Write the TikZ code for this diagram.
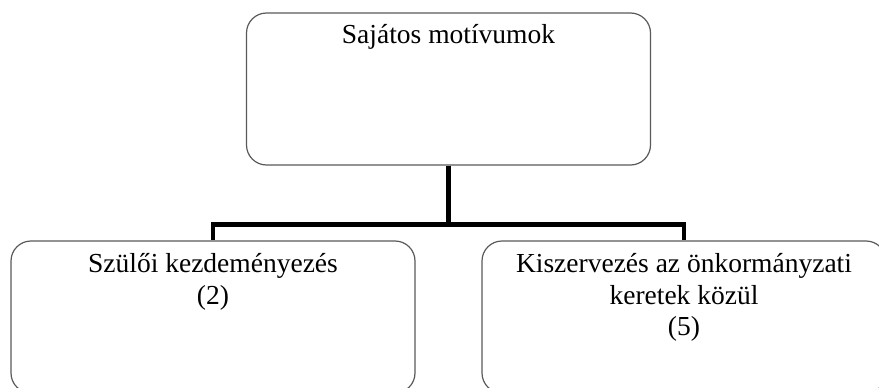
\documentclass[tikz,border=0pt]{standalone}
\usepackage{fontspec}
\setmainfont{Liberation Serif}
\usetikzlibrary{positioning}

\begin{document}
\begin{tikzpicture}[x=1pt, y=-1pt,
  box/.style={draw=black!65, line width=1.2pt, rounded corners=20pt, minimum width=404pt, minimum height=152pt, inner sep=0pt},
  lbl/.style={anchor=north, align=center, inner sep=0pt, font=\fontsize{27.5}{31.5}\selectfont},
  conn/.style={line width=4.5pt}]
\useasboundingbox (0,0) rectangle (879,388);
\clip (0,0) rectangle (879,388);
% dobozok
\node[box] (top) at (448.5,89) {};
\node[box] (left) at (213,317) {};
\node[box] (right) at (684,317) {};
% feliratok
\node[lbl, below=12pt of top.north] (toptext) {Sajátos motívumok};
\node[lbl, below=13pt of left.north] (lefttext) {Szülői kezdeményezés\\(2)};
\node[lbl, below=13pt of right.north] (righttext) {Kiszervezés az önkormányzati\\keretek közül\\(5)};
% összekötők
\draw[conn] (top.south) |- ([yshift=16pt]left.north) -- (left.north);
\draw[conn] (top.south) |- ([yshift=16pt]right.north) -- (right.north);
\end{tikzpicture}
\end{document}
